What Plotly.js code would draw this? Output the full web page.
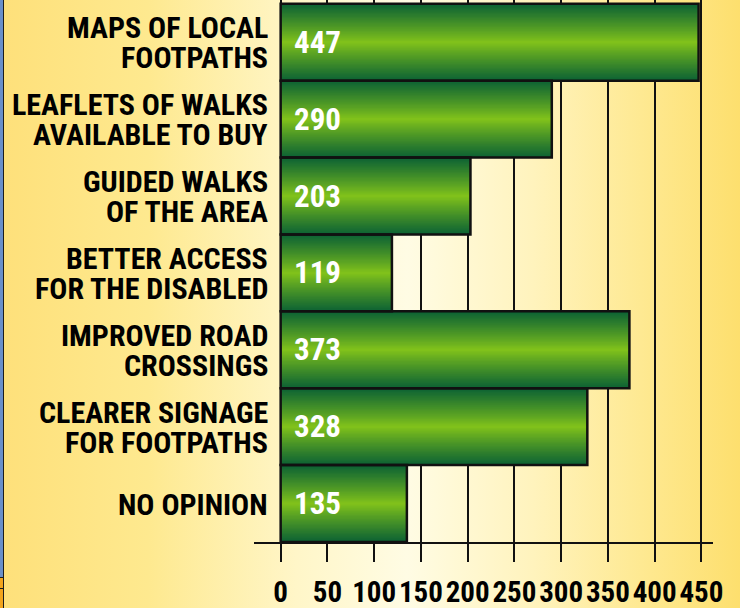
<!DOCTYPE html>
<html>
<head>
<meta charset="utf-8">
<script src="https://cdn.plot.ly/plotly-3.0.1.min.js"></script>
<style>
  html, body { margin: 0; padding: 0; }
  body {
    width: 740px; height: 608px; overflow: hidden; position: relative;
    background: linear-gradient(to right, #fee07a 0%, #fee98f 20%, #fff6c8 40%, #fffce4 55%, #fff3bd 72%, #fee88e 88%, #fddf6e 100%);
  }
  #edge { position: absolute; left: 0; top: 0; width: 3px; height: 608px; background: #6b8fc8; border-right: 1px solid #1c1c1c; }
  #edge2 { position: absolute; left: 0; top: 577px; width: 3px; height: 31px; background: #f2a41c; border-top: 1px solid #1c1c1c; }
  #edge3 { position: absolute; left: 0; top: 588px; width: 3px; height: 1px; background: #1c1c1c; }
  #chart { position: absolute; left: 0; top: 0; width: 740px; height: 608px; }
</style>
</head>
<body>
<div id="edge"></div><div id="edge2"></div><div id="edge3"></div>
<div id="chart"></div>
<script>
// ---- data ----
const categories = [
  "MAPS OF LOCAL<br>FOOTPATHS",
  "LEAFLETS OF WALKS<br>AVAILABLE TO BUY",
  "GUIDED WALKS<br>OF THE AREA",
  "BETTER ACCESS<br>FOR THE DISABLED",
  "IMPROVED ROAD<br>CROSSINGS",
  "CLEARER SIGNAGE<br>FOR FOOTPATHS",
  "NO OPINION"
];
const values = [447, 290, 203, 119, 373, 328, 135];
const tickValues = [0, 50, 100, 150, 200, 250, 300, 350, 400, 450];
const tickLabels = ["0", "50", "100", "150", "200", "250", "300", "350", "400", "450"];

// ---- styling ----
const FONT = "'Roboto Condensed', 'Open Sans Condensed', sans-serif";
const dark = [13, 99, 52];
const lime = [134, 198, 26];
function mix(t) {
  const c = dark.map((d, i) => Math.round(lime[i] + (d - lime[i]) * t));
  return `rgb(${c[0]},${c[1]},${c[2]})`;
}

const traces = [];
const N = 30;
for (let k = 0; k < N; k++) {
  const w = 1 - k / N;
  traces.push({
    type: 'bar', orientation: 'h',
    x: values, y: categories,
    width: w,
    marker: { color: mix(Math.pow(w, 0.9)), line: { width: 0 } },
    hoverinfo: 'skip', showlegend: false
  });
}
traces.push({
  type: 'bar', orientation: 'h',
  x: values, y: categories, width: 1,
  marker: { color: 'rgba(0,0,0,0)', line: { color: '#111', width: 2.5 } },
  hovertemplate: '%{x}<extra></extra>', showlegend: false
});

const annotations = [];
categories.forEach((cat, i) => {
  const lines = cat.split('<br>');
  lines.forEach((ln, j) => {
    annotations.push({
      x: 0, y: cat, xref: 'x', yref: 'y',
      text: ln, showarrow: false,
      xanchor: 'right', yanchor: 'middle', height: 28, valign: 'middle',
      xshift: -11, yshift: -((j - (lines.length - 1) / 2) * 30),
      font: { family: FONT, size: 30, color: '#000', weight: 'bold' }
    });
  });
  annotations.push({
    x: 0, y: cat, xref: 'x', yref: 'y',
    text: String(values[i]), showarrow: false,
    xanchor: 'left', yanchor: 'middle', xshift: 11,
    font: { family: FONT, size: 31, color: '#fff', weight: 'bold' }
  });
});

const layout = {
  width: 740, height: 608,
  margin: { l: 254, r: 27, t: 0, b: 66 },
  paper_bgcolor: 'rgba(0,0,0,0)',
  plot_bgcolor: 'rgba(0,0,0,0)',
  barmode: 'overlay',
  showlegend: false,
  xaxis: {
    range: [-28.5, 462.4],
    tickvals: tickValues, ticktext: tickLabels, tickangle: 0,
    ticklabelstandoff: 5,
    showgrid: true, gridcolor: '#111', gridwidth: 2,
    zeroline: false,
    showline: true, linecolor: '#111', linewidth: 2,
    ticks: 'outside', ticklen: 18, tickwidth: 2, tickcolor: '#111',
    tickfont: { family: FONT, size: 29, color: '#000', weight: 'bold' },
    fixedrange: true
  },
  yaxis: {
    type: 'category',
    categoryorder: 'array', categoryarray: categories,
    range: [6.5, -0.55],
    showticklabels: false, showgrid: false, zeroline: false, showline: false,
    ticks: '', fixedrange: true
  },
  annotations: annotations,
  font: { family: FONT }
};

Plotly.newPlot('chart', traces, layout, { displayModeBar: false, staticPlot: true });
</script>
</body>
</html>
